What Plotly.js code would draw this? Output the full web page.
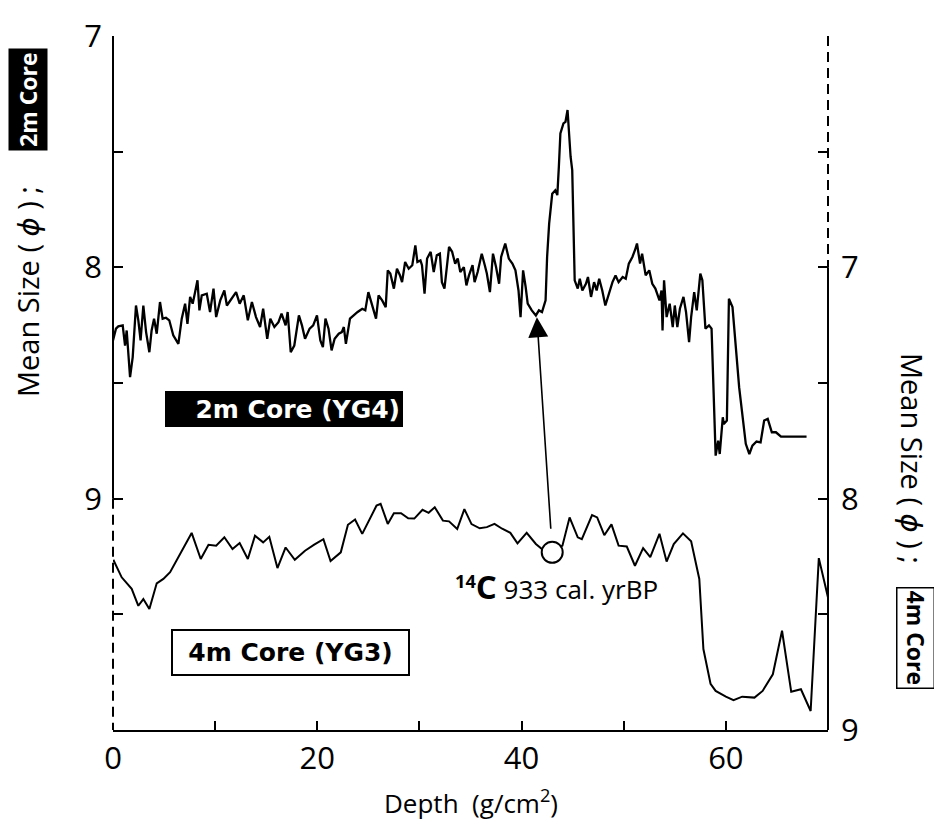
<!DOCTYPE html>
<html>
<head>
<meta charset="utf-8">
<script src="https://cdn.plot.ly/plotly-3.0.1.min.js"></script>
<style>html,body{margin:0;padding:0;background:#fff;}#chart{width:934px;height:823px;}</style>
</head>
<body>
<div id="chart"></div>
<script>
// 2m Core (YG4): depth (g/cm2) and mean size (phi), left axis
const depth2m = [0.0,0.29,0.52,0.95,1.18,1.34,1.67,1.93,2.25,2.48,2.7,2.97,3.24,3.56,3.78,4.02,4.28,4.6,4.86,5.19,5.51,5.9,6.4,6.73,7.06,7.29,7.55,7.8,8.04,8.27,8.46,8.69,9.18,9.5,9.84,10.1,10.5,10.9,11.15,11.6,12.05,12.4,12.8,13.2,13.6,14.0,14.4,14.7,15.1,15.4,15.8,16.2,16.5,16.9,17.1,17.4,17.75,18.2,18.5,18.8,19.25,19.6,19.97,20.3,20.55,20.8,21.1,21.4,21.7,22.1,22.4,22.6,22.8,23.2,23.55,23.95,24.4,24.7,25.0,25.25,25.5,25.75,26.0,26.35,26.7,26.9,27.15,27.5,27.8,28.1,28.3,28.6,28.95,29.3,29.6,29.8,30.1,30.25,30.5,30.75,31.1,31.4,31.7,32.0,32.2,32.45,32.9,33.2,33.5,33.75,34.0,34.35,34.6,34.85,35.2,35.4,35.7,36.1,36.4,36.6,36.9,37.2,37.5,37.8,38.0,38.4,38.75,39.1,39.4,39.7,39.9,40.15,40.4,40.6,41.0,41.4,41.7,42.0,42.35,42.5,42.7,43.0,43.3,43.5,43.65,43.8,44.1,44.3,44.5,44.8,44.96,45.06,45.2,45.5,45.7,45.95,46.3,46.5,46.8,47.1,47.35,47.6,47.9,48.2,48.55,48.9,49.2,49.5,49.9,50.2,50.5,50.85,51.1,51.3,51.6,51.8,52.15,52.5,52.8,53.1,53.5,53.7,53.8,53.95,54.2,54.5,54.8,55.0,55.25,55.5,55.85,56.1,56.4,56.6,56.9,57.15,57.5,57.7,58.0,58.35,58.6,59.0,59.25,59.4,59.7,59.8,60.1,60.3,60.65,61.3,61.95,62.3,62.6,63.0,63.4,63.75,64.1,64.5,64.9,65.4,67.9];
const size2m = [8.316,8.265,8.255,8.251,8.338,8.273,8.475,8.388,8.165,8.229,8.316,8.165,8.28,8.367,8.273,8.222,8.287,8.15,8.222,8.218,8.229,8.294,8.331,8.222,8.157,8.244,8.128,8.157,8.107,8.056,8.186,8.121,8.114,8.193,8.092,8.215,8.143,8.1,8.165,8.136,8.107,8.157,8.121,8.229,8.15,8.215,8.258,8.179,8.309,8.222,8.258,8.237,8.2,8.251,8.193,8.367,8.338,8.208,8.251,8.309,8.265,8.251,8.208,8.316,8.345,8.222,8.265,8.359,8.309,8.287,8.28,8.258,8.331,8.222,8.208,8.193,8.179,8.186,8.107,8.143,8.179,8.222,8.121,8.143,8.172,8.013,8.027,8.092,8.006,8.035,8.064,7.977,8.006,7.991,7.905,7.977,7.97,7.991,8.114,7.962,7.933,8.02,7.948,7.941,8.064,8.092,7.912,7.933,7.984,7.962,8.02,7.999,8.078,8.035,7.991,8.064,8.02,7.941,7.991,8.027,8.107,7.941,7.999,8.071,7.955,7.897,7.962,7.984,8.013,8.1,8.215,8.013,8.085,8.157,8.186,8.208,8.186,8.193,8.143,7.955,7.811,7.682,7.667,7.688,7.566,7.421,7.378,7.371,7.32,7.522,7.58,7.811,8.056,8.092,8.049,8.1,8.071,8.042,8.128,8.064,8.1,8.049,8.1,8.165,8.114,8.064,8.035,8.064,8.042,8.049,7.984,7.955,7.926,7.897,7.984,7.941,8.035,8.013,8.071,8.092,8.143,8.1,8.273,8.056,8.215,8.157,8.258,8.165,8.258,8.179,8.128,8.193,8.323,8.215,8.107,8.186,8.027,8.056,8.265,8.251,8.265,8.814,8.749,8.807,8.648,8.677,8.662,8.136,8.172,8.518,8.763,8.807,8.771,8.753,8.757,8.662,8.655,8.713,8.713,8.732,8.732];

// 4m Core (YG3): depth and mean size (phi), right axis
const depth4m = [0.03,0.85,1.83,2.48,2.97,3.56,4.28,4.93,5.59,6.4,7.7,8.59,9.35,10.1,10.9,11.7,12.4,13.2,13.9,14.7,15.3,16.1,16.9,17.8,18.8,19.7,20.6,21.3,22.3,23.0,23.7,24.4,25.0,25.8,26.2,26.9,27.5,28.2,28.9,29.5,30.3,30.9,31.5,32.3,32.9,33.7,34.4,35.1,35.9,36.6,37.35,38.1,38.9,39.6,40.5,41.4,42.2,43.0,44.0,44.7,45.5,45.9,46.9,47.4,48.1,48.8,49.5,50.3,51.1,51.9,52.6,53.5,54.2,54.9,55.8,56.6,57.4,57.8,58.5,59.0,60.0,60.75,61.6,62.3,62.8,63.6,64.6,65.5,66.4,67.35,68.3,69.1,70.0];
const size4m = [8.264,8.34,8.39,8.463,8.434,8.477,8.366,8.347,8.318,8.253,8.148,8.261,8.199,8.203,8.167,8.218,8.192,8.261,8.16,8.189,8.165,8.3,8.211,8.264,8.225,8.199,8.175,8.27,8.232,8.113,8.09,8.152,8.098,8.03,8.022,8.109,8.063,8.063,8.085,8.086,8.048,8.061,8.037,8.095,8.098,8.131,8.045,8.11,8.128,8.123,8.109,8.13,8.148,8.193,8.148,8.196,8.225,8.232,8.203,8.081,8.167,8.175,8.071,8.081,8.158,8.111,8.203,8.207,8.29,8.214,8.253,8.152,8.272,8.196,8.15,8.184,8.347,8.65,8.8,8.831,8.856,8.871,8.856,8.857,8.86,8.831,8.759,8.571,8.835,8.824,8.918,8.257,8.427];

// 14C dated sample (on 4m core)
const c14Depth = [43.0];
const c14Size = [8.232];
const c14Label = '933 cal. yrBP';

// tick labels
const xTickVals = [0,10,20,30,40,50,60,70];
const xTickText = ['0','','20','','40','','60',''];
const yLeftTickVals = [7,7.5,8,8.5,9,9.5,10];
const yLeftTickText = ['7','','8','','9','',''];
const yRightTickVals = [6,6.5,7,7.5,8,8.5,9];
const yRightTickText = ['','','7','','8','','9'];

// layout helpers (pixel -> paper)
const L = 113, R = 828, T = 36, B = 730;
const px = x => (x - L) / (R - L);
const py = y => (B - y) / (B - T);

const FONT = 'Open Sans, DejaVu Sans, sans-serif';

const traces = [
  {x: depth2m, y: size2m, xaxis: 'x', yaxis: 'y', mode: 'lines', line: {color: '#000', width: 2.3}, hoverinfo: 'skip'},
  {x: depth4m, y: size4m, xaxis: 'x', yaxis: 'y2', mode: 'lines', line: {color: '#000', width: 2}, hoverinfo: 'skip'},
  {x: c14Depth, y: c14Size, xaxis: 'x', yaxis: 'y2', mode: 'markers', marker: {size: 21, color: '#fff', line: {color: '#000', width: 2}}, hoverinfo: 'skip'}
];

const axisCommon = {
  ticks: 'inside', tickwidth: 2, tickcolor: '#000', showgrid: false, zeroline: false,
  tickfont: {family: FONT, size: 31, color: '#000'}, fixedrange: true, tickmode: 'array'
};

const layout = {
  width: 934, height: 823,
  margin: {l: L, r: 934 - R, t: T, b: 823 - B},
  paper_bgcolor: '#fff', plot_bgcolor: '#fff',
  showlegend: false,
  font: {family: FONT, color: '#000'},
  xaxis: Object.assign({}, axisCommon, {
    range: [0, 70], tickvals: xTickVals, ticktext: xTickText, ticklen: 9,
    showline: true, linewidth: 2, linecolor: '#000'
  }),
  yaxis: Object.assign({}, axisCommon, {
    range: [10, 7], tickvals: yLeftTickVals, ticktext: yLeftTickText, ticklen: 10,
    showline: false, ticklabelstandoff: 10
  }),
  yaxis2: Object.assign({}, axisCommon, {
    range: [9, 6], tickvals: yRightTickVals, ticktext: yRightTickText, ticklen: 10,
    overlaying: 'y', side: 'right', showline: false, ticklabelstandoff: 12
  }),
  shapes: [
    {type: 'line', xref: 'paper', yref: 'y', x0: 0, x1: 0, y0: 7, y1: 9, line: {color: '#000', width: 2}},
    {type: 'line', xref: 'paper', yref: 'y', x0: 0, x1: 0, y0: 9, y1: 10, line: {color: '#000', width: 2, dash: '10px,6px'}},
    {type: 'line', xref: 'paper', yref: 'y2', x0: 1, x1: 1, y0: 6, y1: 7, line: {color: '#000', width: 2, dash: '10px,6px'}},
    {type: 'line', xref: 'paper', yref: 'y2', x0: 1, x1: 1, y0: 7, y1: 9, line: {color: '#000', width: 2}}
  ],
  annotations: [
    // arrow from 14C sample to 2m core
    {xref: 'x', yref: 'y', x: 41.5, y: 8.216, text: '', showarrow: true, axref: 'pixel', ayref: 'pixel',
     ax: 14, ay: 213, arrowhead: 2, arrowsize: 2.5, arrowwidth: 1.6, arrowcolor: '#000', standoff: 0},
    // 14C label
    {xref: 'paper', yref: 'paper', x: px(556), y: py(586), xanchor: 'center', yanchor: 'middle', showarrow: false,
     text: '<b><sup>14</sup><span style="font-size:33px">C</span></b> ' + c14Label,
     font: {family: FONT, size: 26, color: '#000'}},
    // 2m core label box
    {xref: 'paper', yref: 'paper', x: px(284), y: py(409), xanchor: 'center', yanchor: 'middle', showarrow: false,
     text: '<b>2m Core (YG4)</b>', font: {family: 'DejaVu Sans, sans-serif', size: 25, color: '#fff'},
     bgcolor: '#000', borderwidth: 0, borderpad: 3, width: 232, height: 30, align: 'right'},
    // 4m core label box
    {xref: 'paper', yref: 'paper', x: px(290.5), y: py(652.5), xanchor: 'center', yanchor: 'middle', showarrow: false,
     text: '<b>4m Core (YG3)</b>', font: {family: 'DejaVu Sans, sans-serif', size: 25, color: '#000'},
     bgcolor: '#fff', bordercolor: '#000', borderwidth: 2, borderpad: 2, width: 231, height: 39, align: 'center'},
    // x axis title
    {xref: 'paper', yref: 'paper', x: 0.5, y: py(802), xanchor: 'center', yanchor: 'middle', showarrow: false,
     text: 'Depth\u00a0 (g/cm<sup>2</sup>)', font: {family: FONT, size: 26, color: '#000'}},
    // left axis title
    {xref: 'paper', yref: 'paper', x: px(27), y: py(292), xanchor: 'center', yanchor: 'middle', showarrow: false,
     textangle: -90, text: 'Mean Size (\u00a0<i>ϕ</i>\u00a0) ;', font: {family: FONT, size: 29, color: '#000'}},
    {xref: 'paper', yref: 'paper', x: px(28), y: py(100), xanchor: 'center', yanchor: 'middle', showarrow: false,
     textangle: -90, text: '<b>2m Core</b>', font: {family: FONT, size: 23, color: '#fff'},
     bgcolor: '#000', borderpad: 3},
    // right axis title
    {xref: 'paper', yref: 'paper', x: px(913), y: py(458), xanchor: 'center', yanchor: 'middle', showarrow: false,
     textangle: 90, text: 'Mean Size (\u00a0<i>ϕ</i>\u00a0) ;', font: {family: FONT, size: 29, color: '#000'}},
    {xref: 'paper', yref: 'paper', x: px(916), y: py(638), xanchor: 'center', yanchor: 'middle', showarrow: false,
     textangle: 90, text: '<b>4m Core</b>', font: {family: FONT, size: 23, color: '#000'},
     bgcolor: '#fff', bordercolor: '#000', borderwidth: 1.5, borderpad: 2}
  ]
};

Plotly.newPlot('chart', traces, layout, {staticPlot: true, displayModeBar: false});
</script>
</body>
</html>
